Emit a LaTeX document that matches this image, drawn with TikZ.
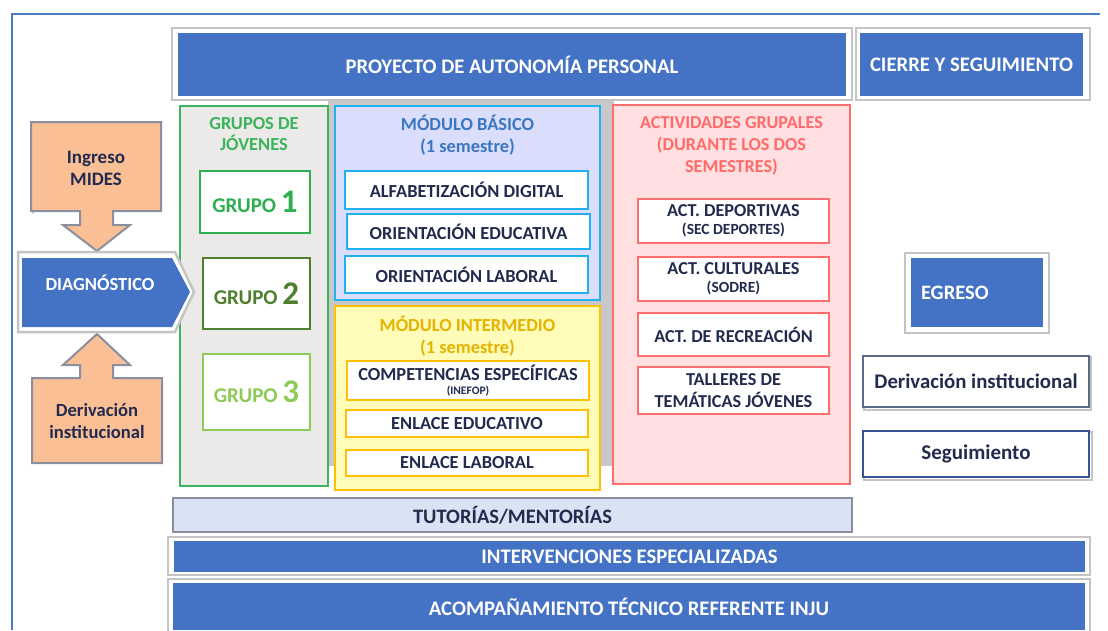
\documentclass[tikz,border=0pt]{standalone}
\usepackage{fontspec}
\setmainfont{Carlito}
\usetikzlibrary{positioning}
\definecolor{blueF}{HTML}{4472C4}
\definecolor{grayB}{HTML}{C4C4C4}
\definecolor{navy}{HTML}{222B4E}
\definecolor{greenA}{HTML}{2EAF4F}
\definecolor{greenT}{HTML}{3DB45C}
\definecolor{greenB}{HTML}{4E7F2E}
\definecolor{greenC}{HTML}{8CCB55}
\definecolor{grayFill}{HTML}{EBEAE8}
\definecolor{grayBack}{HTML}{C8C8C8}
\definecolor{lav}{HTML}{DADDFC}
\definecolor{cyanB}{HTML}{1FB2EE}
\definecolor{modT}{HTML}{3A76C2}
\definecolor{yelF}{HTML}{FFFBB9}
\definecolor{gold}{HTML}{FFC000}
\definecolor{goldT}{HTML}{E5B300}
\definecolor{pinkF}{HTML}{FFDFE0}
\definecolor{redB}{HTML}{FF6E6E}
\definecolor{redT}{HTML}{FF6B6B}
\definecolor{peach}{HTML}{FBBF96}
\definecolor{arrB}{HTML}{8B8E9E}
\definecolor{tutF}{HTML}{DAE3F3}
\definecolor{frameB}{HTML}{4A7CC4}
\definecolor{derB}{HTML}{5A6A8A}
\definecolor{segB}{HTML}{34558F}
\tikzset{
  outerbox/.style={draw=grayB, line width=2.5pt, fill=white, inner sep=0pt},
  bluebox/.style={fill=blueF, draw=none, text=white, font=\bfseries\fontsize{20.7}{22}\selectfont, inner sep=0pt},
  item/.style={fill=white, line width=1.8pt, text=navy, font=\bfseries\fontsize{18.4}{19}\selectfont, align=center, inner sep=0pt},
  grp/.style={fill=white, line width=2pt, inner sep=0pt, font=\bfseries\fontsize{21}{22}\selectfont},
  ttl/.style={font=\bfseries\fontsize{18.4}{21.5}\selectfont, align=center, inner sep=0pt},
  arrowshape/.style={fill=peach, draw=arrB, line width=2pt, line join=miter},
}
\begin{document}
\begin{tikzpicture}[x=1pt,y=-1pt]
\useasboundingbox (0,0) rectangle (1108,630);
% frame
\draw[frameB, line width=2pt] (12,630) -- (12,14) -- (1100,14);

% gray background behind modules
\fill[grayBack] (328,100) rectangle (614,466);

% top headers
\node[outerbox, minimum width=680, minimum height=72] (proyO) at (512,64) {};
\node[bluebox, minimum width=668, minimum height=63] (proy) at (512,64.5) {PROYECTO DE AUTONOMÍA PERSONAL};
\node[outerbox, minimum width=234, minimum height=72] (cierO) at (973,64) {};
\node[bluebox, minimum width=223, minimum height=63] (cier) at (971.5,64.5) {CIERRE Y SEGUIMIENTO};

% grupos
\node[draw=greenT, fill=grayFill, line width=2.5pt, minimum width=148, minimum height=380, inner sep=0pt] (grupos) at (254,296) {};
\node[ttl, text=greenT] (gruposT) at (254,134) {GRUPOS DE\\JÓVENES};
\node[grp, draw=greenA, text=greenA, minimum width=110, minimum height=62] (g1) at (255,202) {GRUPO \fontsize{33}{33}\selectfont 1};
\node[grp, draw=greenB, text=greenB, minimum width=107, minimum height=71] (g2) at (256.5,293.5) {GRUPO \fontsize{33}{33}\selectfont 2};
\node[grp, draw=greenC, text=greenC, minimum width=107, minimum height=76] (g3) at (256.5,392) {GRUPO \fontsize{33}{33}\selectfont 3};

% modulo basico
\node[draw=cyanB, fill=lav, line width=2.5pt, minimum width=265, minimum height=194, inner sep=0pt] (mb) at (467.5,203) {};
\node[ttl, text=modT] (mbT) at (467.5,135) {MÓDULO BÁSICO\\(1 semestre)};
\node[item, draw=cyanB, minimum width=243, minimum height=38] (b1) at (466.5,190) {ALFABETIZACIÓN DIGITAL};
\node[item, draw=cyanB, minimum width=243, minimum height=35] (b2) at (468.5,231.5) {ORIENTACIÓN EDUCATIVA};
\node[item, draw=cyanB, minimum width=243, minimum height=37] (b3) at (466.5,274.5) {ORIENTACIÓN LABORAL};

% modulo intermedio
\node[draw=gold, fill=yelF, line width=2.5pt, minimum width=265, minimum height=184, inner sep=0pt] (mi) at (467.5,398) {};
\node[ttl, text=goldT] (miT) at (467.5,336) {MÓDULO INTERMEDIO\\(1 semestre)};
\node[item, draw=gold, minimum width=242, minimum height=39, font=\bfseries\fontsize{18.4}{14}\selectfont] (i1) at (468,380.5) {COMPETENCIAS ESPECÍFICAS\\{\fontsize{11.5}{11.5}\selectfont (INEFOP)}};
\node[item, draw=gold, minimum width=242, minimum height=27] (i2) at (467,423.5) {ENLACE EDUCATIVO};
\node[item, draw=gold, minimum width=242, minimum height=26] (i3) at (467,463) {ENLACE LABORAL};

% actividades grupales
\node[draw=redB, fill=pinkF, line width=2.5pt, minimum width=237, minimum height=379, inner sep=0pt] (ag) at (731.5,294.5) {};
\node[ttl, text=redT, font=\bfseries\fontsize{18.2}{22}\selectfont] (agT) at (731.5,146) {ACTIVIDADES GRUPALES\\(DURANTE LOS DOS\\SEMESTRES)};
\node[item, draw=redB, minimum width=191, minimum height=44, font=\bfseries\fontsize{18.2}{18}\selectfont] (a1) at (733.5,221) {ACT. DEPORTIVAS\\{\fontsize{15.5}{16}\selectfont (SEC DEPORTES)}};
\node[item, draw=redB, minimum width=191, minimum height=44, font=\bfseries\fontsize{18.2}{18}\selectfont] (a2) at (733.5,279) {ACT. CULTURALES\\{\fontsize{15.5}{16}\selectfont (SODRE)}};
\node[item, draw=redB, minimum width=191, minimum height=43, font=\bfseries\fontsize{18.2}{18}\selectfont] (a3) at (733.5,334.5) {ACT. DE RECREACIÓN};
\node[item, draw=redB, minimum width=191, minimum height=47, font=\bfseries\fontsize{18.2}{21.5}\selectfont] (a4) at (733.5,390.5) {TALLERES DE\\TEMÁTICAS JÓVENES};

% right column
\node[outerbox, minimum width=144, minimum height=80] (egrO) at (977,293) {};
\node[bluebox, minimum width=132, minimum height=69, text width=112, align=left, font=\bfseries\fontsize{20.5}{22}\selectfont] (egr) at (977,292.5) {EGRESO};
\draw[grayB, line width=2pt] (864,357) rectangle (1091,410);
\node[fill=white, draw=derB, line width=1.8pt, minimum width=226, minimum height=51, text=navy, font=\bfseries\fontsize{20.8}{22}\selectfont, inner sep=0pt] (der) at (976,381.5) {Derivación institucional};
\draw[grayB, line width=2pt] (864,432) rectangle (1092,480);
\node[fill=white, draw=segB, line width=2pt, minimum width=226, minimum height=46, text=navy, font=\bfseries\fontsize{21}{22}\selectfont, inner sep=0pt] (seg) at (976,454) {Seguimiento};

% left: arrows
\draw[grayB!70, line width=2pt] (33,124) -- (33,214);
\draw[arrowshape] (31,122) -- (161,122) -- (161,211) -- (113,211) -- (113,225) -- (130,225) -- (97,251) -- (63,225) -- (80,225) -- (80,211) -- (31,211) -- cycle;
\node[text=navy, font=\bfseries\fontsize{19}{22}\selectfont, align=center, inner sep=0pt] (ing) at (96,168) {Ingreso\\MIDES};

\draw[arrowshape] (32,463) -- (162,463) -- (162,378) -- (113,378) -- (113,365) -- (130,365) -- (97,334) -- (63,365) -- (80,365) -- (80,378) -- (32,378) -- cycle;
\node[text=navy, font=\bfseries\fontsize{18.6}{22}\selectfont, align=center, inner sep=0pt] (derL) at (97,421.5) {Derivación\\institucional};

% diagnostico
\draw[draw=grayB, fill=white, line width=2.5pt] (18,252) -- (175,252) -- (194,292) -- (175,332) -- (18,332) -- cycle;
\fill[blueF] (22,258) -- (172,258) -- (190,292) -- (172,327) -- (22,327) -- cycle;
\node[text=white, font=\bfseries\fontsize{18.5}{20}\selectfont, inner sep=0pt] (diag) at (100,283) {DIAGNÓSTICO};

% bottom bars
\node[fill=tutF, draw=arrB, line width=2pt, minimum width=679, minimum height=34, text=navy, font=\bfseries\fontsize{20.5}{22}\selectfont, inner sep=0pt] (tut) at (512.5,515) {TUTORÍAS/MENTORÍAS};
\node[outerbox, minimum width=922, minimum height=38] (intO) at (629,556) {};
\node[bluebox, minimum width=911, minimum height=31] (int) at (629.5,556.5) {INTERVENCIONES ESPECIALIZADAS};
\node[outerbox, minimum width=922, minimum height=56] (acoO) at (629,607) {};
\node[bluebox, minimum width=912, minimum height=47] (aco) at (629,606.5) {ACOMPAÑAMIENTO TÉCNICO REFERENTE INJU};
\end{tikzpicture}
\end{document}
